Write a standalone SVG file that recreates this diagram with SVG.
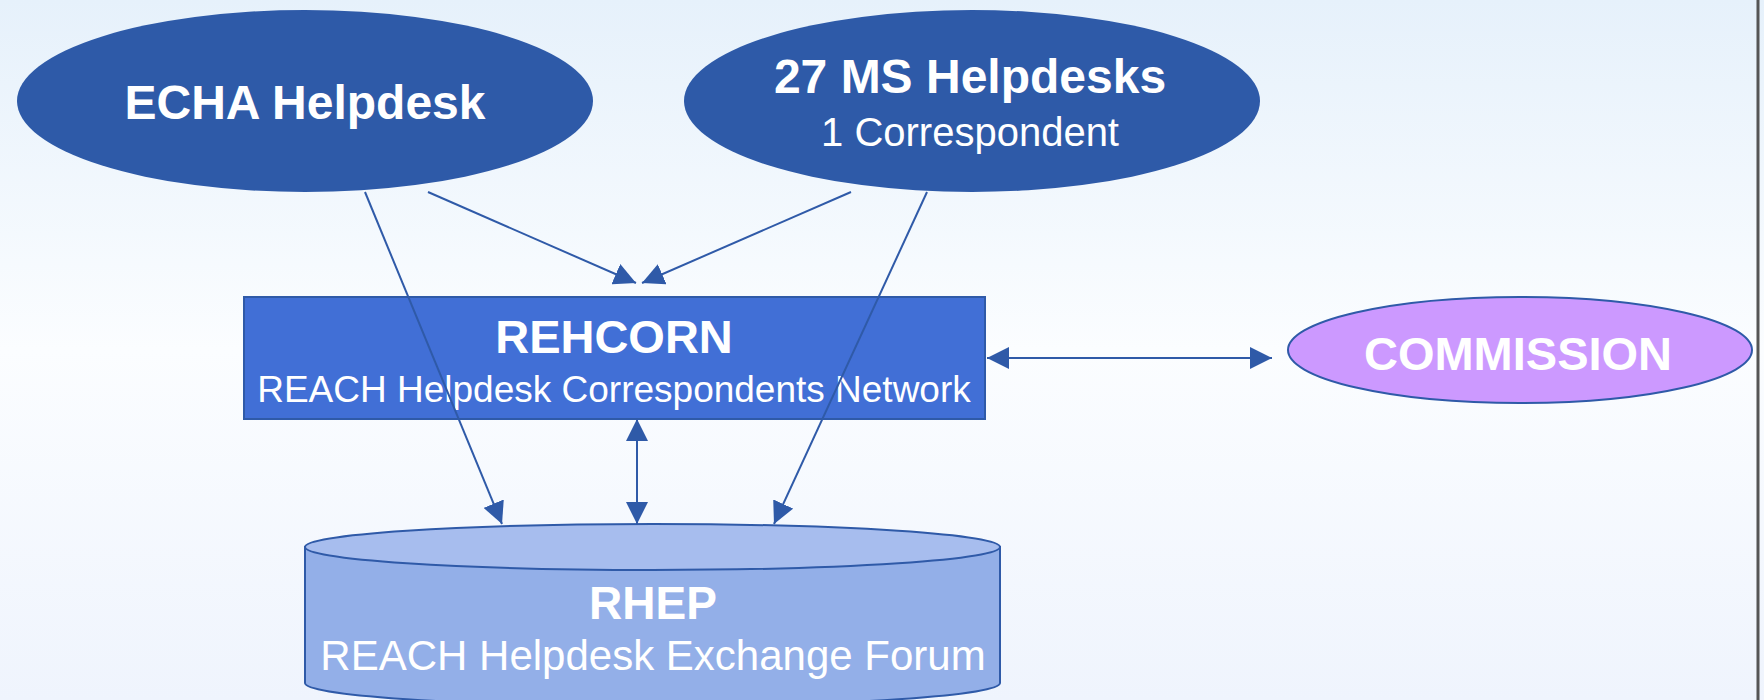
<svg xmlns="http://www.w3.org/2000/svg" width="1764" height="700" viewBox="0 0 1764 700">
<defs>
<linearGradient id="bg" x1="0" y1="0" x2="0" y2="1">
<stop offset="0" stop-color="#e6f1fb"/>
<stop offset="0.5" stop-color="#fbfdff"/>
<stop offset="1" stop-color="#eff4fd"/>
</linearGradient>
<marker id="ah" markerUnits="userSpaceOnUse" markerWidth="22" markerHeight="22" viewBox="0 0 20 20" refX="20" refY="10" orient="auto-start-reverse">
<path d="M0,0 L20,10 L0,20 Z" fill="#2f5aa8"/>
</marker>
</defs>
<style>
.t{font-family:"Liberation Sans",Arial,sans-serif;fill:#ffffff;text-anchor:middle}
.b{font-weight:bold}
.dk{fill:#2e5aa8}
.st{stroke:#2f5aa8;stroke-width:2}
.cn{stroke:#2f5aa8;stroke-width:2;fill:none;marker-end:url(#ah)}
.dbl{marker-start:url(#ah)}
</style>
<rect x="0" y="0" width="1764" height="700" fill="url(#bg)"/>
<line x1="1758" y1="0" x2="1758" y2="700" stroke="#555555" stroke-width="3"/>

<g id="echa">
<ellipse class="dk" cx="305" cy="101" rx="288" ry="91"/>
<text class="t b" x="305" y="119" font-size="48">ECHA Helpdesk</text>
</g>
<g id="ms">
<ellipse class="dk" cx="972" cy="101" rx="288" ry="91"/>
<text class="t b" x="970" y="93" font-size="48">27 MS Helpdesks</text>
<text class="t" x="970" y="146" font-size="40">1 Correspondent</text>
</g>
<g id="rehcorn">
<rect x="244" y="297" width="741" height="122" fill="#416fd6" class="st"/>
<text class="t b" x="614" y="353" font-size="47">REHCORN</text>
<text class="t" x="614" y="402" font-size="37">REACH Helpdesk Correspondents Network</text>
</g>
<g id="commission">
<ellipse cx="1520" cy="350" rx="232" ry="53" fill="#cc99ff" class="st"/>
<text class="t b" x="1518" y="370" font-size="47">COMMISSION</text>
</g>
<g id="rhep">
<path d="M305,547 L305,683 A347.5,23 0 0 0 1000,683 L1000,547 Z" fill="#93afe8" class="st"/>
<ellipse cx="652.5" cy="547" rx="347.5" ry="23" fill="#a7bdee" class="st"/>
<text class="t b" x="653" y="619" font-size="46">RHEP</text>
<text class="t" x="653" y="670" font-size="42">REACH Helpdesk Exchange Forum</text>
</g>

<g id="connectors">
<line class="cn" x1="365" y1="192" x2="502" y2="524"/>
<line class="cn" x1="428" y1="192" x2="636" y2="283"/>
<line class="cn" x1="851" y1="192" x2="642" y2="283"/>
<line class="cn" x1="927" y1="192" x2="774" y2="524"/>
<line class="cn dbl" x1="637" y1="419" x2="637" y2="524"/>
<line class="cn dbl" x1="987" y1="358" x2="1272" y2="358"/>
</g>
</svg>
